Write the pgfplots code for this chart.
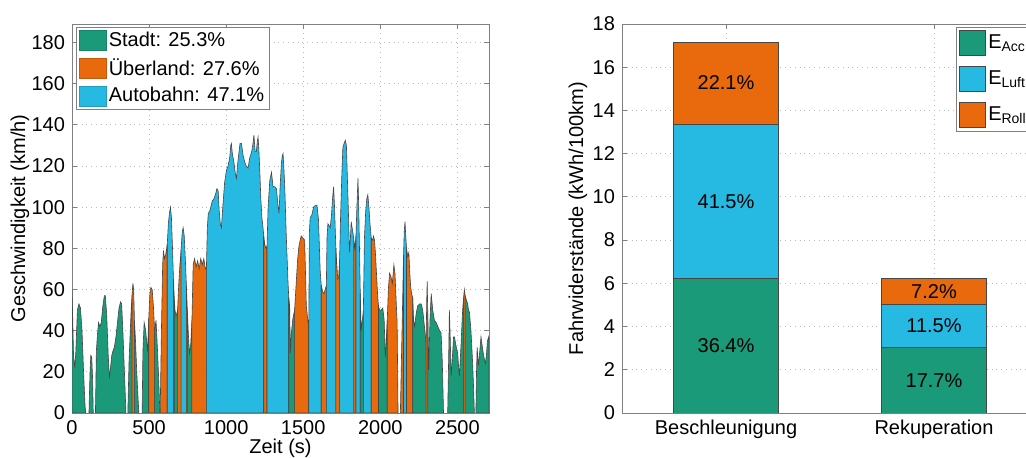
\documentclass[border=0pt]{standalone}
\usepackage{pgfplots}
\pgfplotsset{compat=1.18}
\usepackage{fontspec}
\setmainfont{Liberation Sans}
\definecolor{cS}{RGB}{27,154,122}
\definecolor{cU}{RGB}{232,106,12}
\definecolor{cA}{RGB}{38,185,226}
\definecolor{edge}{RGB}{70,70,70}
\definecolor{axgray}{RGB}{128,128,128}
\pgfplotsset{
  mstyle/.style={
    scale only axis,
    axis line style={axgray},
    tick style={axgray, line width=0.4pt},
    tick align=inside,
    major tick length=2.5pt,
    grid=major,
    major grid style={dotted, gray!55, line width=0.4pt},
    ticklabel style={font=\fontsize{10}{12}\selectfont, text=black},
    label style={font=\fontsize{10}{12}\selectfont},
    /pgf/number format/assume math mode=true,
    /pgf/number format/1000 sep={},
    scaled ticks=false,
    legend cell align=left,
  },
  seg/.style={draw=edge, line width=0.3pt, forget plot},
}
\begin{document}
\begin{tikzpicture}[x=1pt,y=1pt]
\useasboundingbox (0,0) rectangle (513,229);
\begin{axis}[mstyle,
  at={(36pt,22.5pt)}, anchor=south west,
  width=208.5pt, height=194.5pt,
  xmin=0, xmax=2705, ymin=0, ymax=189,
  xtick={0,500,...,2500}, ytick={0,20,...,180},
  xlabel={Zeit (s)}, ylabel={Geschwindigkeit (km/h)},
  xlabel style={at={(axis description cs:0.5,-0.09)}, anchor=center},
  ylabel style={at={(axis description cs:-0.125,0.5)}, anchor=center},
  legend style={font=\fontsize{10}{12}\selectfont, draw=axgray, at={(0,1)}, anchor=north west,
    xshift=1.8pt, yshift=-1.5pt, inner xsep=1.5pt, inner ysep=1.2pt, row sep=2.6pt,
    nodes={inner xsep=1pt, inner ysep=1pt}},
  legend image code/.code={\draw[#1] (0pt,-5pt) rectangle (13.5pt,5pt);},
]
\addplot[seg, fill=cS] coordinates {(0,60) (5,45) (10,28) (18,22) (25,30) (35,50) (45,53) (55,51) (65,40) (75,20) (85,3) (90,0)} \closedcycle;
\addplot[seg, fill=cS] coordinates {(110,0) (117,20) (122,28) (128,27) (133,18) (138,0)} \closedcycle;
\addplot[seg, fill=cS] coordinates {(152,0) (158,30) (165,38) (172,44) (180,42) (190,44) (200,52) (210,57) (216,57) (225,48) (235,28) (243,17) (250,22) (258,28) (265,30) (275,32) (285,37) (295,44) (305,51) (315,54) (322,53) (330,40) (340,20) (350,0)} \closedcycle;
\addplot[seg, fill=cS] coordinates {(362,0) (370,25) (378,40) (385,52) (390,58)} \closedcycle;
\addplot[seg, fill=cU] coordinates {(390,58) (395,63) (400,60) (405,45)} \closedcycle;
\addplot[seg, fill=cS] coordinates {(405,45) (412,35) (420,20) (430,5) (434,0)} \closedcycle;
\addplot[seg, fill=cS] coordinates {(455,0) (460,30) (468,44) (478,40) (490,30) (498,46)} \closedcycle;
\addplot[seg, fill=cU] coordinates {(498,46) (505,58) (512,61) (520,60) (528,52) (536,40)} \closedcycle;
\addplot[seg, fill=cS] coordinates {(536,40) (545,45) (555,30) (563,15) (570,0)} \closedcycle;
\addplot[seg, fill=cU] coordinates {(572,0) (580,40) (588,72) (593,79) (600,75) (608,77) (618,82)} \closedcycle;
\addplot[seg, fill=cA] coordinates {(618,82) (625,92) (632,97) (639,100) (645,95) (652,80) (658,65)} \closedcycle;
\addplot[seg, fill=cU] coordinates {(658,65) (664,55)} \closedcycle;
\addplot[seg, fill=cS] coordinates {(664,55) (668,50) (675,47) (685,50)} \closedcycle;
\addplot[seg, fill=cU] coordinates {(685,50) (692,62) (700,72) (708,80)} \closedcycle;
\addplot[seg, fill=cA] coordinates {(708,80) (715,88) (721,90) (728,86) (735,75) (742,62)} \closedcycle;
\addplot[seg, fill=cU] coordinates {(742,62) (748,50)} \closedcycle;
\addplot[seg, fill=cS] coordinates {(748,50) (755,38) (762,29) (770,33) (778,45)} \closedcycle;
\addplot[seg, fill=cU] coordinates {(778,45) (786,72) (795,75) (805,71) (815,74) (825,70) (835,75) (845,72) (855,75) (865,70) (872,71)} \closedcycle;
\addplot[seg, fill=cA] coordinates {(872,71) (878,90) (884,97) (893,98) (900,100) (910,103) (920,104) (930,106) (940,109) (948,108) (955,98) (962,92) (969,90) (978,100) (990,112) (1002,118) (1012,120) (1023,124) (1030,130) (1034,131) (1040,126) (1050,122) (1060,116) (1067,114) (1073,120) (1082,126) (1090,131) (1099,131) (1110,125) (1120,122) (1130,120) (1142,119) (1153,124) (1162,126) (1168,128) (1174,131) (1180,135) (1188,127) (1196,127) (1202,132) (1207,134) (1212,128) (1218,118) (1225,104) (1232,95) (1239,90) (1244,86)} \closedcycle;
\addplot[seg, fill=cU] coordinates {(1244,86) (1250,82) (1258,80) (1265,81)} \closedcycle;
\addplot[seg, fill=cA] coordinates {(1265,81) (1272,100) (1283,113) (1294,117) (1304,110) (1315,110) (1326,109) (1335,102) (1343,97) (1350,110) (1358,121) (1364,125) (1369,126) (1375,118) (1380,110) (1390,86) (1401,64) (1406,56)} \closedcycle;
\addplot[seg, fill=cS] coordinates {(1406,56) (1412,52) (1416,29) (1422,38) (1433,46) (1444,50)} \closedcycle;
\addplot[seg, fill=cU] coordinates {(1444,50) (1455,64) (1464,75) (1472,81) (1480,84) (1487,86) (1498,85) (1509,84) (1514,70) (1520,52) (1531,44) (1536,45)} \closedcycle;
\addplot[seg, fill=cA] coordinates {(1536,45) (1540,88) (1545,95) (1555,96) (1567,100) (1580,101) (1589,101) (1599,94) (1605,80) (1610,69) (1617,62)} \closedcycle;
\addplot[seg, fill=cU] coordinates {(1617,62) (1625,59) (1635,58) (1642,60) (1650,62)} \closedcycle;
\addplot[seg, fill=cA] coordinates {(1650,62) (1654,85) (1660,92) (1668,91) (1675,90) (1683,96) (1690,104) (1697,110) (1703,100) (1708,88) (1712,80)} \closedcycle;
\addplot[seg, fill=cU] coordinates {(1712,80) (1718,72) (1724,65) (1730,66) (1736,75)} \closedcycle;
\addplot[seg, fill=cA] coordinates {(1736,75) (1742,95) (1750,115) (1757,129) (1765,131) (1773,132.5) (1780,130) (1786,115) (1794,95) (1800,78) (1806,85) (1811,93) (1817,90) (1822,88) (1828,84)} \closedcycle;
\addplot[seg, fill=cU] coordinates {(1828,84) (1835,80) (1842,86)} \closedcycle;
\addplot[seg, fill=cA] coordinates {(1842,86) (1848,100) (1855,114) (1860,100) (1866,75) (1870,58)} \closedcycle;
\addplot[seg, fill=cS] coordinates {(1870,58) (1876,40) (1882,44) (1890,50)} \closedcycle;
\addplot[seg, fill=cA] coordinates {(1890,50) (1897,85) (1905,98) (1912,104) (1919,106) (1926,100) (1933,92) (1941,85)} \closedcycle;
\addplot[seg, fill=cU] coordinates {(1941,85) (1950,84) (1956,86) (1962,84) (1968,78) (1975,68) (1982,58) (1988,52)} \closedcycle;
\addplot[seg, fill=cS] coordinates {(1988,52) (1995,50) (2005,50) (2016,51) (2025,45) (2032,27) (2038,35) (2045,45)} \closedcycle;
\addplot[seg, fill=cU] coordinates {(2045,45) (2052,60) (2060,68) (2070,66) (2078,63) (2088,72) (2095,68) (2103,54) (2109,44) (2115,0)} \closedcycle;
\addplot[seg, fill=cU] coordinates {(2130,0) (2138,30) (2145,55) (2150,75)} \closedcycle;
\addplot[seg, fill=cA] coordinates {(2150,75) (2155,88) (2160,93) (2165,86) (2170,80)} \closedcycle;
\addplot[seg, fill=cU] coordinates {(2170,80) (2178,76) (2185,78) (2190,70) (2196,62) (2203,58) (2210,56)} \closedcycle;
\addplot[seg, fill=cS] coordinates {(2210,56) (2216,45) (2222,42) (2232,48) (2242,52) (2255,53) (2265,53) (2275,50) (2286,42) (2297,34)} \closedcycle;
\addplot[seg, fill=cU] coordinates {(2297,34) (2301,55) (2304,64) (2308,48)} \closedcycle;
\addplot[seg, fill=cS] coordinates {(2308,48) (2314,21) (2322,45) (2330,58) (2340,50) (2351,45) (2362,44) (2373,42) (2385,40) (2394,39) (2402,25) (2410,0)} \closedcycle;
\addplot[seg, fill=cS] coordinates {(2437,0) (2444,30) (2448,50) (2454,35) (2459,18) (2466,25) (2475,37) (2481,37) (2490,33) (2502,29) (2508,22) (2513,18) (2520,28) (2524,34) (2530,44) (2534,50) (2540,56)} \closedcycle;
\addplot[seg, fill=cU] coordinates {(2540,56) (2545,60) (2550,57)} \closedcycle;
\addplot[seg, fill=cS] coordinates {(2550,57) (2558,55) (2567,53) (2572,50) (2578,49) (2588,40) (2599,24) (2606,10) (2610,0)} \closedcycle;
\addplot[seg, fill=cS] coordinates {(2620,0) (2624,20) (2628,32) (2636,23) (2645,30) (2653,37) (2660,33) (2668,29) (2675,26) (2681,24) (2688,28) (2695,35) (2703,37) (2705,30)} \closedcycle;
\addlegendimage{fill=cS, draw=cS!85!black}
\addlegendentry{Stadt: 25.3\%}
\addlegendimage{fill=cU, draw=cU!85!black}
\addlegendentry{Überland: 27.6\%}
\addlegendimage{fill=cA, draw=cA!85!black}
\addlegendentry{Autobahn: 47.1\%}
\end{axis}

\begin{axis}[mstyle,
  at={(311pt,22.5pt)}, anchor=south west,
  width=208pt, height=194.5pt,
  xmin=0.5, xmax=2.5, ymin=0, ymax=18,
  xtick={1,2}, xticklabels={Beschleunigung, Rekuperation},
  ytick={0,2,...,18},
  ybar stacked, bar width=0.505,
  ylabel={Fahrwiderstände (kWh/100km)},
  ylabel style={at={(axis description cs:-0.106,0.5)}, anchor=center},
  legend style={font=\fontsize{10}{12}\selectfont, draw=axgray, at={(0.803,1)}, anchor=north west,
    yshift=-1.5pt, inner xsep=1.5pt, inner ysep=1.5pt, row sep=5.2pt,
    nodes={inner xsep=1pt, inner ysep=1pt}},
  legend image code/.code={\draw[#1] (0pt,-6.2pt) rectangle (13pt,6.2pt);},
]
\addplot[fill=cS, draw=edge, line width=0.4pt] coordinates {(1,6.24) (2,3.04)};
\addplot[fill=cA, draw=edge, line width=0.4pt] coordinates {(1,7.12) (2,1.97)};
\addplot[fill=cU, draw=edge, line width=0.4pt] coordinates {(1,3.79) (2,1.23)};
\legend{E\textsubscript{Acc}, E\textsubscript{Luft}, E\textsubscript{Roll}}
\coordinate (b1) at (axis cs:1,3.12);
\coordinate (b2) at (axis cs:1,9.80);
\coordinate (b3) at (axis cs:1,15.27);
\coordinate (r1) at (axis cs:2,1.52);
\coordinate (r2) at (axis cs:2,4.02);
\coordinate (r3) at (axis cs:2,5.62);
\end{axis}
\begin{scope}[every node/.style={font=\fontsize{10}{12}\selectfont, text=black}]
\node at (b1) {36.4\%};
\node at (b2) {41.5\%};
\node at (b3) {22.1\%};
\node at (r1) {17.7\%};
\node at (r2) {11.5\%};
\node at (r3) {7.2\%};
\end{scope}
\end{tikzpicture}
\end{document}
